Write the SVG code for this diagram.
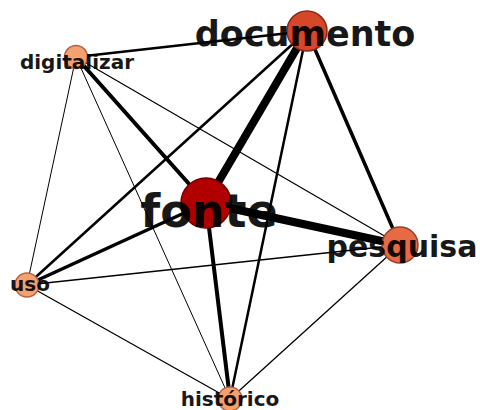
<svg xmlns="http://www.w3.org/2000/svg" width="480" height="410" viewBox="0 0 480 410">
<style>
.e{stroke:#000;stroke-linecap:round;fill:none}
.n{stroke-width:1.5}
.t{font-family:"DejaVu Sans",sans-serif;font-weight:bold;fill:#000;text-anchor:middle;opacity:0.9}
</style>
<rect width="480" height="410" fill="#fff"/>
<g id="edges">
<line class="e" x1="76" y1="57" x2="307" y2="31" stroke-width="2.5"/>
<line class="e" x1="76" y1="57" x2="206" y2="203" stroke-width="4"/>
<line class="e" x1="76" y1="57" x2="27" y2="285" stroke-width="1"/>
<line class="e" x1="76" y1="57" x2="230" y2="399" stroke-width="1"/>
<line class="e" x1="76" y1="57" x2="400" y2="245" stroke-width="1.2"/>
<line class="e" x1="307" y1="31" x2="206" y2="203" stroke-width="8"/>
<line class="e" x1="307" y1="31" x2="400" y2="245" stroke-width="3.5"/>
<line class="e" x1="307" y1="31" x2="27" y2="285" stroke-width="2.5"/>
<line class="e" x1="307" y1="31" x2="230" y2="399" stroke-width="2.5"/>
<line class="e" x1="206" y1="203" x2="400" y2="245" stroke-width="8"/>
<line class="e" x1="206" y1="203" x2="27" y2="285" stroke-width="3.5"/>
<line class="e" x1="206" y1="203" x2="230" y2="399" stroke-width="4"/>
<line class="e" x1="27" y1="285" x2="400" y2="245" stroke-width="1.3"/>
<line class="e" x1="27" y1="285" x2="230" y2="399" stroke-width="1.3"/>
<line class="e" x1="400" y1="245" x2="230" y2="399" stroke-width="1.3"/>
</g>
<g id="node-digitalizar">
<circle class="n" cx="76" cy="57" r="11.5" fill="#f4a06f" stroke="#b0654a"/>
<text class="t" x="77" y="69" font-size="20">digitalizar</text>
</g>
<g id="node-documento">
<circle class="n" cx="307" cy="31" r="20" fill="#d6472a" stroke="#8b2a1a"/>
<text class="t" x="305" y="46" font-size="35">documento</text>
</g>
<g id="node-fonte">
<circle class="n" cx="206" cy="203" r="25" fill="#b00000" stroke="#6e0000"/>
<text class="t" x="209" y="227" font-size="46">fonte</text>
</g>
<g id="node-pesquisa">
<circle class="n" cx="400" cy="245" r="18" fill="#e66a44" stroke="#9a4028"/>
<text class="t" x="402" y="257" font-size="30">pesquisa</text>
</g>
<g id="node-uso">
<circle class="n" cx="27" cy="285" r="12" fill="#f4a06f" stroke="#b0654a"/>
<text class="t" x="30" y="291" font-size="20">uso</text>
</g>
<g id="node-historico">
<circle class="n" cx="230" cy="399" r="12" fill="#f4a06f" stroke="#b0654a"/>
<text class="t" x="230" y="406" font-size="20">histórico</text>
</g>
</svg>
